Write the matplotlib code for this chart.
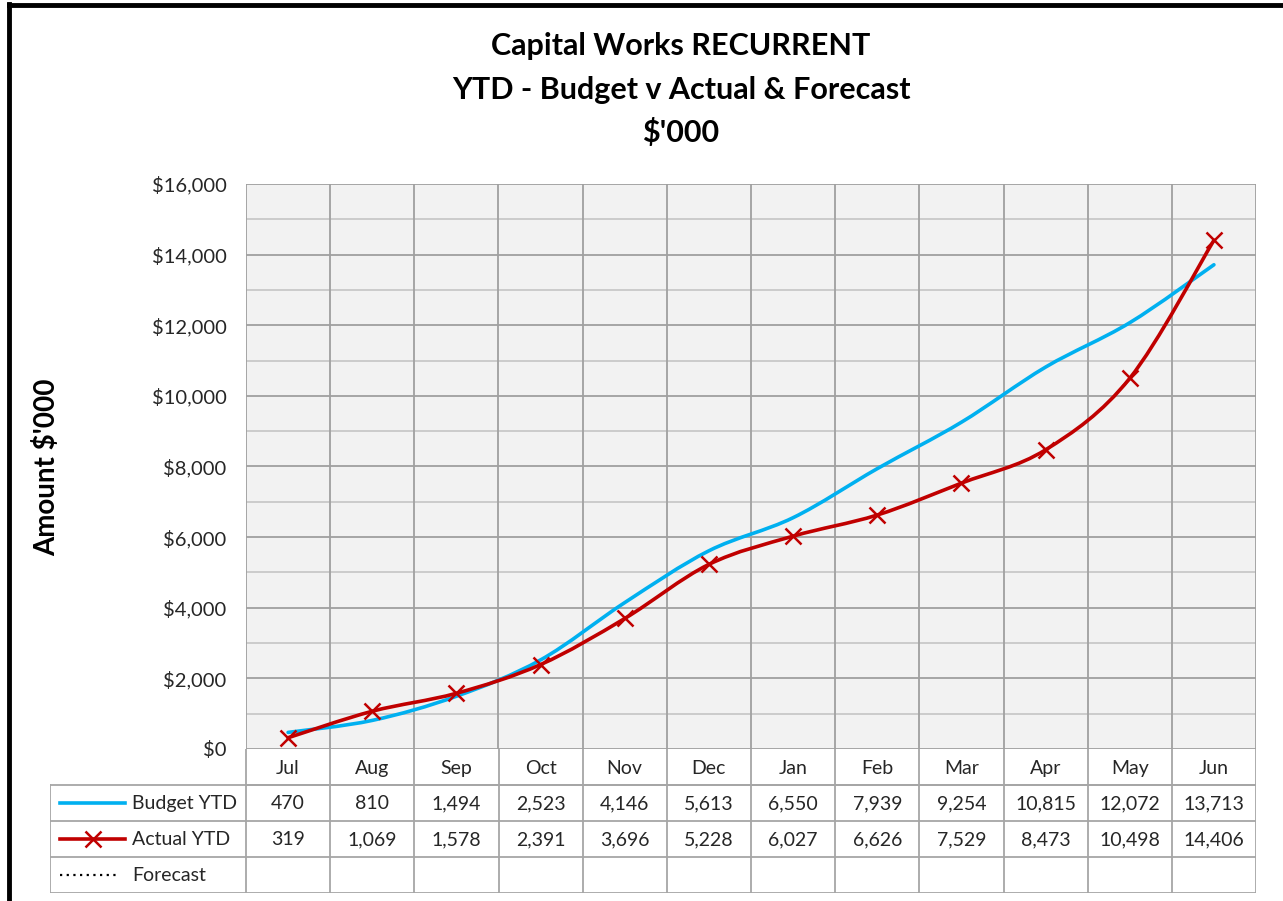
import matplotlib.pyplot as plt
import matplotlib.patches as mpatches
from matplotlib.path import Path
from matplotlib.lines import Line2D
import numpy as np

plt.rcParams['font.family'] = ['Lato', 'DejaVu Sans']

# ── data ────────────────────────────────────────────
months = ['Jul', 'Aug', 'Sep', 'Oct', 'Nov', 'Dec',
          'Jan', 'Feb', 'Mar', 'Apr', 'May', 'Jun']
budget_ytd = [470, 810, 1494, 2523, 4146, 5613, 6550, 7939, 9254, 10815, 12072, 13713]
actual_ytd = [319, 1069, 1578, 2391, 3696, 5228, 6027, 6626, 7529, 8473, 10498, 14406]
forecast = []

series_names = ['Budget YTD', 'Actual YTD', 'Forecast']
yticks = list(range(0, 16001, 2000))

BLUE = '#00b0f0'
RED = '#c00000'
GRID_MAJ = '#a0a0a0'
GRID_MIN = '#c8c8c8'
TBL = '#a6a6a6'
TXT = '#262626'
FS = 14

W, H = 1283, 901
fig = plt.figure(figsize=(W / 100, H / 100), dpi=100)


def px(x0, y0, x1, y1):
    return [x0 / W, 1 - y1 / H, (x1 - x0) / W, (y1 - y0) / H]


# ── main plot ───────────────────────────────────────
ax = fig.add_axes(px(246, 184, 1256, 749))
ax.set_facecolor('#f2f2f2')
ax.set_xlim(-0.5, 11.5)
ax.set_ylim(0, 16000)

for y in range(1000, 16000, 2000):
    ax.axhline(y, color=GRID_MIN, lw=1.3, zorder=1)
for y in yticks:
    ax.axhline(y, color=GRID_MAJ, lw=1.3, zorder=1)
for i in range(13):
    ax.axvline(i - 0.5, color=GRID_MAJ, lw=1.3, zorder=1)

for s in ax.spines.values():
    s.set_visible(False)
ax.set_xticks([])
ax.set_yticks(yticks)
ax.set_yticklabels([f'${v:,}' for v in yticks], fontsize=14.5, color=TXT)
ax.tick_params(axis='y', length=0, pad=14)


def smooth_path(xs, ys):
    # Excel-style smoothed line: cubic Bezier through every point
    pts = np.column_stack([xs, ys]).astype(float)
    verts = [pts[0]]
    codes = [Path.MOVETO]
    n = len(pts)
    for i in range(n - 1):
        p0 = pts[i - 1] if i > 0 else pts[i]
        p1, p2 = pts[i], pts[i + 1]
        p3 = pts[i + 2] if i + 2 < n else pts[i + 1]
        c1 = p1 + (p2 - p0) / 6
        c2 = p2 - (p3 - p1) / 6
        verts += [c1, c2, p2]
        codes += [Path.CURVE4] * 3
    return Path(verts, codes)


x = np.arange(len(months))
ax.add_patch(mpatches.PathPatch(smooth_path(x, budget_ytd), fill=False,
                                edgecolor=BLUE, lw=2.6, zorder=3,
                                capstyle='round'))
ax.add_patch(mpatches.PathPatch(smooth_path(x, actual_ytd), fill=False,
                                edgecolor=RED, lw=2.6, zorder=4,
                                capstyle='round'))
ax.plot(x, actual_ytd, ls='none', marker='x', ms=12, mew=1.8,
        color=RED, zorder=5)

# ── title / y label ─────────────────────────────────
for yy, line in zip([46, 90, 132], ['Capital Works RECURRENT',
                                    'YTD - Budget v Actual & Forecast',
                                    "$'000"]):
    fig.text(681 / W, 1 - yy / H, line, ha='center', va='center',
             fontsize=22, fontweight='bold', color='black')
fig.text(47 / W, 1 - 467 / H, "Amount $'000", rotation=90, ha='center',
         va='center', fontsize=20, fontweight='bold', color='black')

# ── data table ─────────────────────────────────────
tx = fig.add_axes(px(50, 749, 1256, 893))
left = -0.5 - 196 / (1010 / 12)
tx.set_xlim(left, 11.5)
tx.set_ylim(4, 0)
tx.axis('off')

lw = 1.3
tx.plot([-0.5, 11.5], [1, 1], color=TBL, lw=lw)
for r in [1, 2, 3, 4]:
    tx.plot([left, 11.5], [r, r], color=TBL, lw=lw)
tx.plot([left, left], [1, 4], color=TBL, lw=lw)
for i in range(13):
    tx.plot([i - 0.5, i - 0.5], [0, 4], color=TBL, lw=lw)

rows = [budget_ytd, actual_ytd]
for i, m in enumerate(months):
    tx.text(i, 0.55, m, ha='center', va='center', fontsize=FS, color=TXT)
    for r, vals in enumerate(rows):
        tx.text(i, 1.52 + r, f'{vals[i]:,}', ha='center', va='center',
                fontsize=FS, color=TXT)

# legend keys
u = 1010 / 12
kx0 = left + 10 / u
kx1 = left + 75 / u
tx.add_line(Line2D([kx0, kx1], [1.5, 1.5], color=BLUE, lw=2.6))
tx.add_line(Line2D([kx0, kx1], [2.5, 2.5], color=RED, lw=2.6))
tx.plot([(kx0 + kx1) / 2], [2.5], marker='x', ms=12, mew=1.8, color=RED)
tx.add_line(Line2D([kx0, left + 68 / u], [3.5, 3.5],
                   color='black', lw=1.6, ls=(0, (1, 2))))
tlx = left + 82 / u
for r, name in enumerate(series_names):
    tx.text(tlx, 1.52 + r, name, ha='left', va='center', fontsize=FS, color=TXT)

# ── outer border (top / left) ──────────────────────
fig.add_artist(Line2D([8.5 / W, 8.5 / W], [0, 1 - 4 / H], color='black',
                      lw=3.5, transform=fig.transFigure))
fig.add_artist(Line2D([8.5 / W, 1], [1 - 4.5 / H, 1 - 4.5 / H],
                      color='black', lw=3.5, transform=fig.transFigure))

fig.savefig('out.png', dpi=100, facecolor='white')
